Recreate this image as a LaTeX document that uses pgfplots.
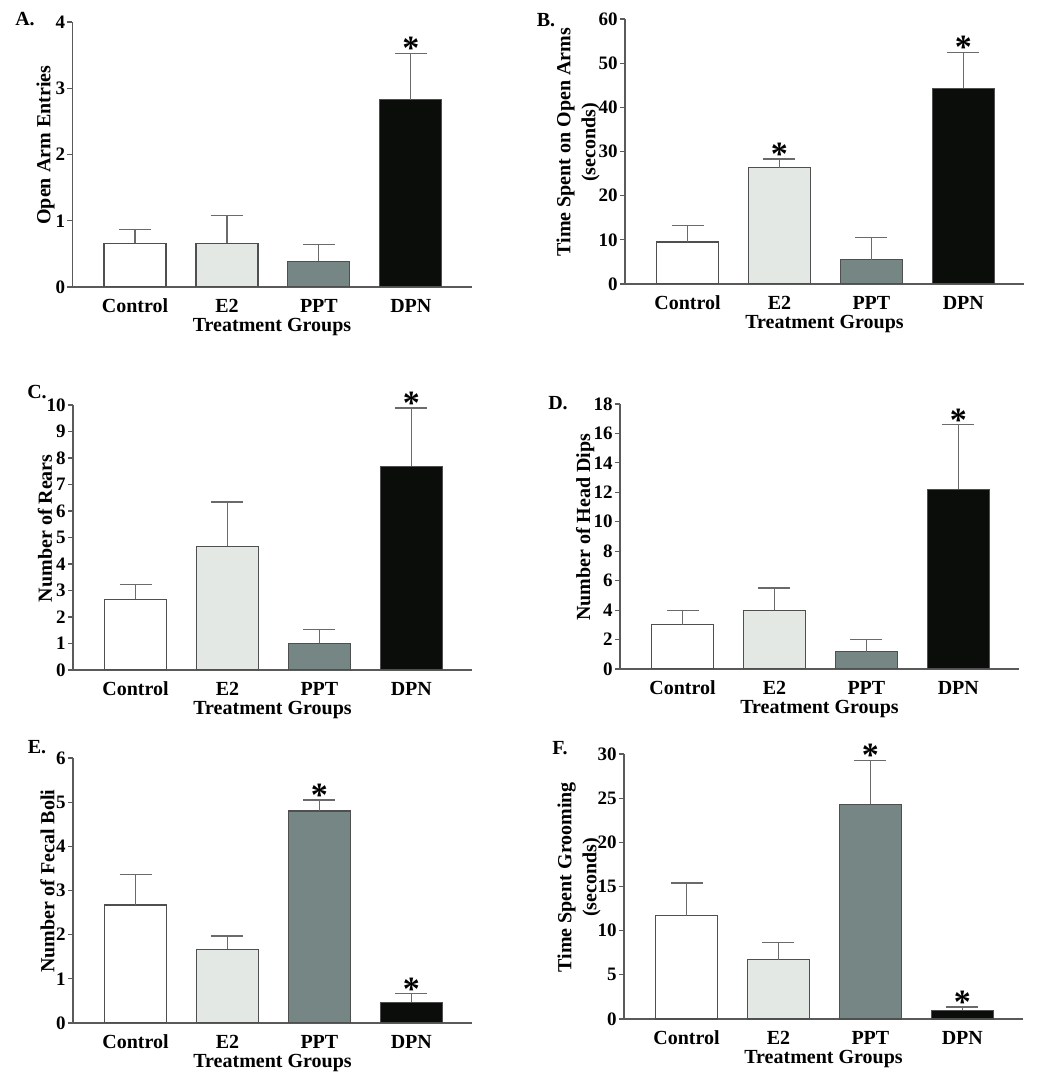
\documentclass[border=0pt]{standalone}
\usepackage{fontspec}
\setmainfont{Liberation Serif}
\usepackage{pgfplots}
\pgfplotsset{compat=1.18}

\definecolor{barline}{HTML}{4F4F4F}
\definecolor{errline}{HTML}{6A6A6A}
\definecolor{axline}{HTML}{5A5A5A}
\definecolor{cE}{HTML}{E3E8E5}
\definecolor{cP}{HTML}{758685}
\definecolor{cD}{HTML}{0B0D0B}

\pgfplotsset{
  panel/.style={
    scale only axis, width=199.5pt, height=132.5pt,
    anchor=south west,
    axis x line=bottom, axis y line=left,
    axis line style={draw=axline, line width=0.6pt, -},
    xmin=-0.68, xmax=3.66, ymin=0,
    xtick={0,1,2,3}, xticklabels={Control,E2,PPT,DPN},
    x tick style={draw=none},
    y tick style={draw=axline, line width=0.6pt},
    tick align=outside, major tick length=2.5pt,
    ybar, bar width=31pt, bar shift=0pt,
    /pgf/number format/assume math mode=true,
    yticklabel style={font=\fontsize{9.5}{9.5}\selectfont\bfseries, inner sep=1pt},
    xticklabel style={font=\fontsize{10}{10}\selectfont\bfseries},
    label style={font=\fontsize{10}{12.5}\selectfont\bfseries, align=center},
    xlabel={Treatment Groups},
    xlabel style={at={(axis description cs:0.5,-0.15)}, anchor=center},
    every axis plot/.append style={line width=0.6pt},
    cycle list={
      {fill=white, draw=barline},
      {fill=cE, draw=barline},
      {fill=cP, draw=barline},
      {fill=cD, draw=barline}},
    error bars/y dir=plus, error bars/y explicit,
    error bars/error bar style={draw=errline, line width=0.6pt},
    error bars/error mark options={rotate=90, draw=errline, line width=0.6pt, mark size=8pt},
  },
  ylab/.style={ylabel style={at={(axis description cs:#1,0.535)}, anchor=center}},
  star/.style={draw=none, mark=none, forget plot,
    nodes near coords={*},
    nodes near coords style={font=\fontsize{17}{17}\selectfont\bfseries,
      anchor=south, inner sep=0pt, yshift=-3.5pt, text=black}},
}

\begin{document}
\begin{tikzpicture}
\useasboundingbox (0,0) rectangle (525pt,538pt);

% A
\begin{axis}[panel, at={(36.25pt,394.5pt)}, ymax=4, ytick={0,1,2,3,4},
  ylabel={Open Arm Entries}, ylab=-0.0675]
\addplot coordinates {(0,0.66) +- (0,0.21)};
\addplot coordinates {(1,0.66) +- (0,0.42)};
\addplot coordinates {(2,0.39) +- (0,0.25)};
\addplot coordinates {(3,2.83) +- (0,0.70)};
\addplot[star] coordinates {(3,3.53)};
\end{axis}

% B
\begin{axis}[panel, at={(312.5pt,396pt)}, ymax=60, ytick={0,10,...,60},
  ylabel={Time Spent on Open Arms\\(seconds)}, ylab=-0.1175]
\addplot coordinates {(0,9.5) +- (0,3.7)};
\addplot coordinates {(1,26.3) +- (0,2.0)};
\addplot coordinates {(2,5.5) +- (0,5.0)};
\addplot coordinates {(3,44.3) +- (0,8.1)};
\addplot[star] coordinates {(1,28.3) (3,52.4)};
\end{axis}

% C
\begin{axis}[panel, at={(36.5pt,203pt)}, ymax=10, ytick={0,1,...,10},
  ylabel={Number of Rears}, ylab=-0.07]
\addplot coordinates {(0,2.67) +- (0,0.55)};
\addplot coordinates {(1,4.67) +- (0,1.67)};
\addplot coordinates {(2,1.0) +- (0,0.53)};
\addplot coordinates {(3,7.69) +- (0,2.2)};
\addplot[star] coordinates {(3,9.89)};
\end{axis}

% D
\begin{axis}[panel, at={(310pt,203.5pt)}, ymax=18, ytick={0,2,...,18},
  ylabel={Number of Head Dips}, ylab=-0.0875]
\addplot coordinates {(0,3.0) +- (0,1.0)};
\addplot coordinates {(1,4.0) +- (0,1.5)};
\addplot coordinates {(2,1.18) +- (0,0.82)};
\addplot coordinates {(3,12.2) +- (0,4.4)};
\addplot[star] coordinates {(3,16.6)};
\end{axis}

% E
\begin{axis}[panel, at={(36.5pt,26.5pt)}, ymax=6, ytick={0,1,...,6},
  ylabel={Number of Fecal Boli}, ylab=-0.064]
\addplot coordinates {(0,2.67) +- (0,0.70)};
\addplot coordinates {(1,1.67) +- (0,0.30)};
\addplot coordinates {(2,4.80) +- (0,0.25)};
\addplot coordinates {(3,0.47) +- (0,0.19)};
\addplot[star] coordinates {(2,5.05) (3,0.66)};
\end{axis}

% F
\begin{axis}[panel, at={(312pt,28.5pt)}, ymax=30, ytick={0,5,...,30},
  ylabel={Time Spent Grooming\\(seconds)}, ylab=-0.1125]
\addplot coordinates {(0,11.7) +- (0,3.7)};
\addplot coordinates {(1,6.7) +- (0,2.0)};
\addplot coordinates {(2,24.3) +- (0,5.0)};
\addplot coordinates {(3,1.0) +- (0,0.36)};
\addplot[star] coordinates {(2,29.3) (3,1.36)};
\end{axis}

\begin{scope}[every node/.style={font=\fontsize{10}{10}\selectfont\bfseries}]
\node at (12.5pt,528.5pt) {A.};
\node at (273pt,528pt) {B.};
\node at (18.5pt,342pt) {C.};
\node at (279pt,336.5pt) {D.};
\node at (18.5pt,164.5pt) {E.};
\node at (280pt,164pt) {F.};
\end{scope}
\end{tikzpicture}
\end{document}
